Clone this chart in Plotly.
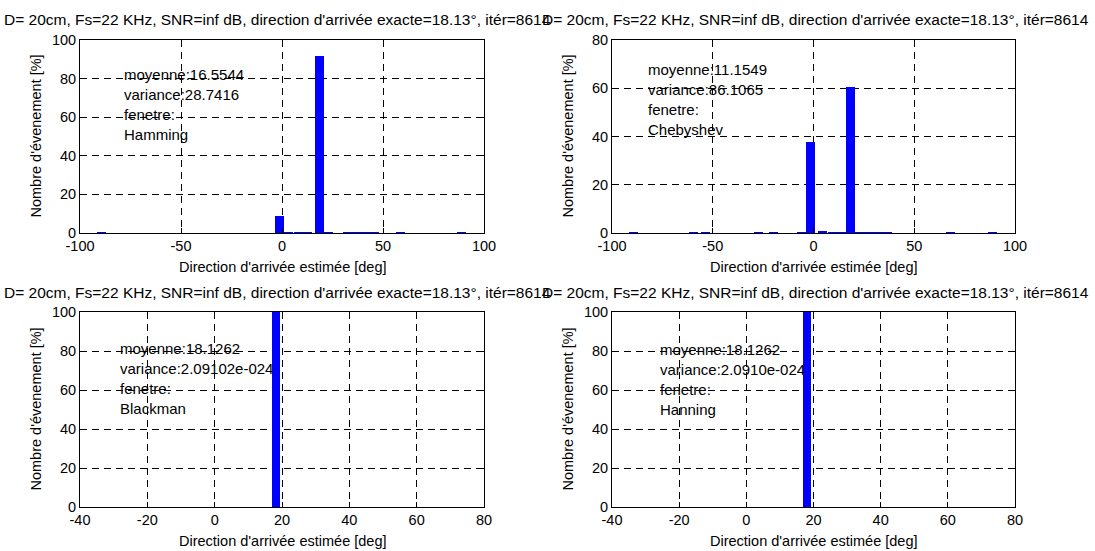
import plotly.graph_objects as go

FONT = "Liberation Sans, Arial, sans-serif"
TTL = 15.5    # title font size
TXT = 15      # annotation font size
LBL = 14.5    # axis label font size
TCK = 14.5    # tick label font size

title_text = "D= 20cm, Fs=22 KHz, SNR=inf dB, direction d'arrivée exacte=18.13°, itér=8614"
xlabel = "Direction d'arrivée estimée [deg]"
ylabel = "Nombre d'évenement [%]"

# --- Hamming window histogram (top-left)
ham_x = [-89.4, -1.3, 3.4, 8.0, 12.6, 18.6, 23.0, 32.5, 37.0, 41.5, 46.0, 58.8, 88.8]
ham_y = [0.4, 8.6, 0.4, 0.4, 0.4, 91.5, 0.2, 0.3, 0.3, 0.3, 0.3, 0.3, 0.3]
ham_text = ["moyenne:16.5544", "variance:28.7416", "fenetre:", "Hamming"]

# --- Chebyshev window histogram (top-right)
cheb_x = [-89.2, -59.4, -53.6, -27.5, -20.0, -5.9, -1.35, 4.6, 9.5, 14.0, 18.5,
          23.0, 27.5, 32.0, 36.5, 67.9, 89.0]
cheb_y = [0.3, 0.3, 0.3, 0.3, 0.3, 0.3, 37.8, 0.9, 0.3, 0.3, 60.6,
          0.3, 0.3, 0.3, 0.3, 0.3, 0.3]
cheb_text = ["moyenne:11.1549", "variance:86.1065", "fenetre:", "Chebyshev"]

# --- Blackman window histogram (bottom-left)
black_x = [18.13]
black_y = [100]
black_text = ["moyenne:18.1262", "variance:2.09102e-024", "fenetre:", "Blackman"]

# --- Hanning window histogram (bottom-right)
hann_x = [18.13]
hann_y = [100]
hann_text = ["moyenne:18.1262", "variance:2.0910e-024", "fenetre:", "Hanning"]

# tick definitions
xt_top = [-100, -50, 0, 50, 100]
xt_top_lbl = ["-100", "-50", "0", "50", "100"]
xt_bot = [-40, -20, 0, 20, 40, 60, 80]
xt_bot_lbl = ["-40", "-20", "0", "20", "40", "60", "80"]
yt_100 = [0, 20, 40, 60, 80, 100]
yt_80 = [0, 20, 40, 60, 80]

W, H = 1095, 551
BLUE = "#0000ff"

fig = go.Figure()
fig.add_trace(go.Bar(x=ham_x, y=ham_y, width=4.5, marker=dict(color=BLUE, line=dict(width=0)),
                     xaxis="x", yaxis="y", showlegend=False))
fig.add_trace(go.Bar(x=cheb_x, y=cheb_y, width=4.5, marker=dict(color=BLUE, line=dict(width=0)),
                     xaxis="x2", yaxis="y2", showlegend=False))
fig.add_trace(go.Bar(x=black_x, y=black_y, width=2.5, marker=dict(color=BLUE, line=dict(width=0)),
                     xaxis="x3", yaxis="y3", showlegend=False))
fig.add_trace(go.Bar(x=hann_x, y=hann_y, width=2.5, marker=dict(color=BLUE, line=dict(width=0)),
                     xaxis="x4", yaxis="y4", showlegend=False))

# pixel boxes of the four plot areas: (left, right, top, bottom)
boxes = [(80, 484, 40, 233), (612, 1015, 40, 233), (80, 484, 312, 507), (612, 1015, 312, 507)]
title_cx = [277, 815, 277, 815]


def axis_common():
    return dict(showline=True, linecolor="black", linewidth=1, mirror="ticks",
                ticks="inside", ticklen=5, tickcolor="black", tickwidth=1,
                showgrid=True, gridcolor="black", gridwidth=1, griddash="7px,5px",
                zeroline=False, automargin=False,
                tickfont=dict(family=FONT, size=TCK, color="black"))


layout = dict(width=W, height=H, margin=dict(l=0, r=0, t=0, b=0, pad=0), autosize=False,
              paper_bgcolor="white", plot_bgcolor="white", bargap=0,
              font=dict(family=FONT, size=TCK, color="black"))

xr = [[-100, 100], [-100, 100], [-40, 80], [-40, 80]]
xtv = [xt_top, xt_top, xt_bot, xt_bot]
xtl = [xt_top_lbl, xt_top_lbl, xt_bot_lbl, xt_bot_lbl]
yr = [[0, 100], [0, 80], [0, 100], [0, 100]]
ytv = [yt_100, yt_80, yt_100, yt_100]

for i, (l, r, t, b) in enumerate(boxes):
    sfx = "" if i == 0 else str(i + 1)
    xa = axis_common()
    xa.update(domain=[l / W, r / W], range=xr[i], tickvals=xtv[i], ticktext=xtl[i],
              anchor="y" + sfx)
    ya = axis_common()
    ya.update(domain=[1 - b / H, 1 - t / H], range=yr[i], tickvals=ytv[i],
              ticktext=[str(v) for v in ytv[i]], anchor="x" + sfx)
    layout["xaxis" + sfx] = xa
    layout["yaxis" + sfx] = ya

fig.update_layout(**layout)

ann = []
for i, (l, r, t, b) in enumerate(boxes):
    cx = (l + r) / 2 / W
    # title
    ann.append(dict(text=title_text, xref="paper", yref="paper", x=title_cx[i] / W,
                    y=1 - (t - 20) / H,
                    xanchor="center", yanchor="middle", showarrow=False,
                    font=dict(family=FONT, size=TTL, color="black")))
    # x label
    ann.append(dict(text=xlabel, xref="paper", yref="paper", x=cx, y=1 - (b + 34) / H,
                    xanchor="center", yanchor="middle", showarrow=False,
                    font=dict(family=FONT, size=LBL, color="black")))
    # y label
    ann.append(dict(text=ylabel, xref="paper", yref="paper", x=(l - 45) / W,
                    y=1 - (t + b) / 2 / H, textangle=-90,
                    xanchor="center", yanchor="middle", showarrow=False,
                    font=dict(family=FONT, size=LBL, color="black")))

stats = [(ham_text, -79.4, 81.0), (cheb_text, -83.3, 66.9),
         (black_text, -28.6, 80.5), (hann_text, -26.2, 79.6)]
for i, (lines, x0, y0) in enumerate(stats):
    sfx = "" if i == 0 else str(i + 1)
    for k, s in enumerate(lines):
        ann.append(dict(text=s, xref="x" + sfx, yref="y" + sfx, x=x0, y=y0,
                        yshift=2 - 20 * k, xanchor="left", yanchor="middle", showarrow=False,
                        font=dict(family=FONT, size=TXT, color="black")))

fig.update_layout(annotations=ann)
fig.write_html("out.html")
